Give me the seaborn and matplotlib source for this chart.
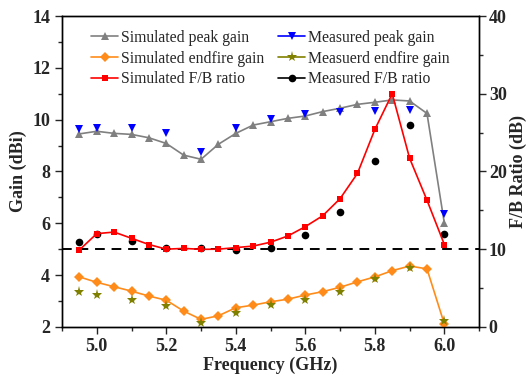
import numpy as np
import pandas as pd
import seaborn as sns
import matplotlib
matplotlib.use("Agg")
import matplotlib.pyplot as plt
from matplotlib.lines import Line2D
from matplotlib.ticker import MultipleLocator

# simulated curves, 4.95 .. 6.00 GHz every 0.05
freq_sim = [4.95, 5.00, 5.05, 5.10, 5.15, 5.20, 5.25, 5.30, 5.35, 5.40, 5.45,
            5.50, 5.55, 5.60, 5.65, 5.70, 5.75, 5.80, 5.85, 5.90, 5.95, 6.00]
sim_peak = [9.45, 9.55, 9.47, 9.43, 9.30, 9.08, 8.63, 8.47, 9.05, 9.47, 9.79,
            9.92, 10.05, 10.14, 10.31, 10.44, 10.59, 10.67, 10.76, 10.72, 10.24, 6.00]
sim_endfire = [3.93, 3.72, 3.55, 3.38, 3.19, 3.03, 2.61, 2.29, 2.43, 2.74, 2.84,
               2.97, 3.07, 3.23, 3.36, 3.53, 3.74, 3.93, 4.17, 4.35, 4.24, 2.11]
sim_fb = [9.9, 12.0, 12.2, 11.4, 10.6, 10.0, 10.1, 9.98, 10.0, 10.2, 10.4,
          10.9, 11.7, 12.9, 14.3, 16.5, 19.75, 25.4, 30.0, 21.7, 16.3, 10.6]

# measured points
freq_meas = [4.95, 5.00, 5.10, 5.20, 5.30, 5.40, 5.50, 5.60, 5.70, 5.80, 5.90, 6.00]
meas_peak = [9.62, 9.66, 9.66, 9.47, 8.74, 9.66, 10.01, 10.20, 10.28, 10.34, 10.37, 6.34]
meas_endfire = [3.33, 3.23, 3.03, 2.81, 2.16, 2.52, 2.84, 3.03, 3.36, 3.83, 4.26, 2.24]
meas_fb = [10.9, 11.9, 11.0, 10.2, 10.1, 9.9, 10.2, 11.8, 14.8, 21.4, 26.0, 12.0]

sim = pd.DataFrame({"f": freq_sim, "peak": sim_peak, "endfire": sim_endfire, "fb": sim_fb})
meas = pd.DataFrame({"f": freq_meas, "peak": meas_peak, "endfire": meas_endfire, "fb": meas_fb})

sns.set_style("ticks")
plt.rcParams['font.family'] = ['Liberation Serif', 'DejaVu Serif']

fig = plt.figure(figsize=(5.3, 3.81), dpi=100)
ax = fig.add_axes([0.117, 0.142, 0.787, 0.816])
ax2 = ax.twinx()

grey, blue, orange, olive, red = '#808080', '#0000ff', '#ff8c1a', '#808000', '#ff0000'

sns.lineplot(data=sim, x="f", y="peak", ax=ax, color=grey, lw=1.2, marker='^',
             markersize=6, markeredgewidth=0, zorder=3)
sns.lineplot(data=meas, x="f", y="peak", ax=ax, color=blue, linestyle='none', marker='v',
             markersize=6, markeredgewidth=0, zorder=4)
sns.lineplot(data=sim, x="f", y="endfire", ax=ax, color=orange, lw=1.2, marker='D',
             markersize=5, markeredgewidth=0, zorder=3)
sns.lineplot(data=meas, x="f", y="endfire", ax=ax, color=olive, linestyle='none', marker='*',
             markersize=8, markeredgewidth=0, zorder=4)
ax.axhline(5, color='black', ls=(0, (5, 3.5)), lw=1.4, zorder=2)

sns.lineplot(data=meas, x="f", y="fb", ax=ax2, color='black', linestyle='none', marker='o',
             markersize=5.5, markeredgewidth=0, zorder=3)
sns.lineplot(data=sim, x="f", y="fb", ax=ax2, color=red, lw=1.2, marker='s',
             markersize=5, markeredgewidth=0, zorder=4)

ax.set_xlim(4.9, 6.1)
ax.set_ylim(2, 14)
ax2.set_ylim(0, 40)
ax.xaxis.set_minor_locator(MultipleLocator(0.1))
ax.yaxis.set_major_locator(MultipleLocator(2))
ax.yaxis.set_minor_locator(MultipleLocator(1))
ax2.yaxis.set_major_locator(MultipleLocator(10))
ax2.yaxis.set_minor_locator(MultipleLocator(5))
ax.set_xticks([5.0, 5.2, 5.4, 5.6, 5.8, 6.0])
ax.set_xticklabels(['5.0', '5.2', '5.4', '5.6', '5.8', '6.0'])

for a in (ax, ax2):
    a.tick_params(which='major', direction='out', length=5, width=1, labelsize=13)
    a.tick_params(which='minor', direction='out', length=3, width=1)
    for s in a.spines.values():
        s.set_linewidth(1)
        s.set_color('black')
    for lab in a.get_xticklabels() + a.get_yticklabels():
        lab.set_fontweight('bold')
ax.tick_params(axis='x', pad=3)
ax2.tick_params(axis='y', pad=2)

ax.set_xlabel("Frequency (GHz)", fontsize=13, fontweight='bold', labelpad=1)
ax.set_ylabel("Gain (dBi)", fontsize=13, fontweight='bold', labelpad=4)
ax2.set_ylabel("F/B Ratio (dB)", fontsize=13, fontweight='bold', labelpad=2)

handles = [
    Line2D([], [], color=grey, marker='^', markersize=6, markeredgewidth=0, lw=1.2),
    Line2D([], [], color=orange, marker='D', markersize=5, markeredgewidth=0, lw=1.2),
    Line2D([], [], color=red, marker='s', markersize=5, markeredgewidth=0, lw=1.2),
    Line2D([], [], color=blue, marker='v', markersize=6, markeredgewidth=0, lw=1.2),
    Line2D([], [], color=olive, marker='*', markersize=8, markeredgewidth=0, lw=1.2),
    Line2D([], [], color='black', marker='o', markersize=5.5, markeredgewidth=0, lw=1.2),
]
labels = ["Simulated peak gain", "Simulated endfire gain", "Simulated F/B ratio",
          "Measured peak gain", "Measuerd endfire gain", "Measured F/B ratio"]
ax2.legend(handles, labels, ncol=2, loc='upper left', bbox_to_anchor=(0.07, 0.955),
           frameon=False, fontsize=11.3, handlelength=1.7, handletextpad=0.2,
           columnspacing=0.9, labelspacing=0.3, borderpad=0, borderaxespad=0)

fig.savefig("out.png", dpi=100)
